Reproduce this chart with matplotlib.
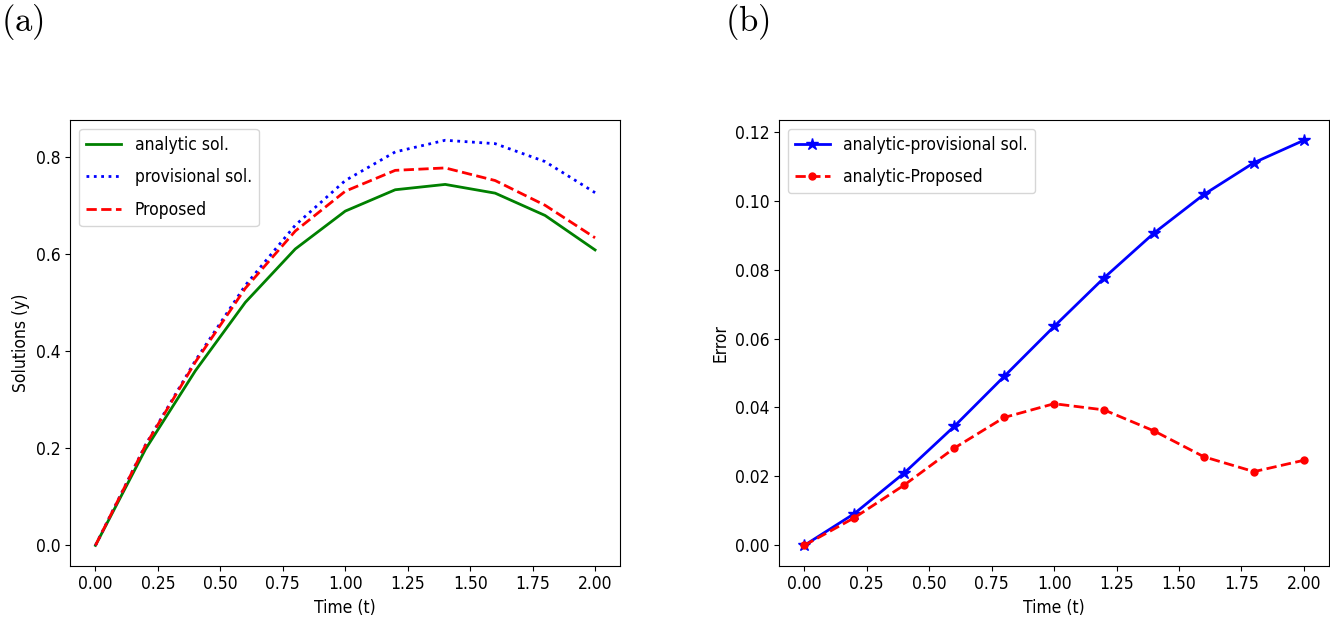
import numpy as np
import matplotlib
matplotlib.use("Agg")
import matplotlib.pyplot as plt

plt.rcParams["mathtext.fontset"] = "cm"
plt.rcParams["font.family"] = ["DejaVu Sans"]
plt.rcParams["font.stretch"] = "condensed"

# ── data ──────────────────────────────────────────────────────────────────────
t = [0.0, 0.2, 0.4, 0.6, 0.8, 1.0, 1.2, 1.4, 1.6, 1.8, 2.0]

analytic    = [0.0, 0.198, 0.360, 0.501, 0.611, 0.689, 0.733, 0.744, 0.726, 0.680, 0.609]
provisional = [0.0, 0.207, 0.381, 0.536, 0.660, 0.752, 0.811, 0.835, 0.828, 0.791, 0.727]
proposed    = [0.0, 0.206, 0.378, 0.530, 0.648, 0.730, 0.773, 0.778, 0.752, 0.701, 0.634]

err_provisional = [0.0, 0.0092, 0.0210, 0.0345, 0.0490, 0.0635, 0.0776, 0.0906, 0.1018, 0.1110, 0.1175]
err_proposed    = [0.0, 0.0080, 0.0175, 0.0282, 0.0371, 0.0411, 0.0393, 0.0332, 0.0257, 0.0214, 0.0247]

FS = 12.5

fig = plt.figure(figsize=(13.3, 6.27), dpi=100)
ax1 = fig.add_axes([0.0530, 0.0978, 0.4132, 0.7108])
ax2 = fig.add_axes([0.5859, 0.0978, 0.4133, 0.7108])

# ── (a) solutions ─────────────────────────────────────────────────────────────
ax1.plot(t, analytic, color="green", linestyle="-", linewidth=2, label="analytic sol.")
ax1.plot(t, provisional, color="blue", linestyle=":", linewidth=2, label="provisional sol.")
ax1.plot(t, proposed, color="red", linestyle="--", linewidth=2, label="Proposed")
ax1.set_xticks(np.arange(0, 2.01, 0.25))
ax1.set_xlabel("Time (t)", fontsize=FS)
ax1.set_ylabel("Solutions (y)", fontsize=FS)
ax1.tick_params(labelsize=FS)
ax1.legend(loc="upper left", fontsize=FS, labelspacing=0.85)

# ── (b) errors ────────────────────────────────────────────────────────────────
ax2.plot(t, err_provisional, color="blue", linestyle="-", linewidth=2,
         marker="*", markersize=9, label="analytic-provisional sol.")
ax2.plot(t, err_proposed, color="red", linestyle="--", linewidth=2,
         marker="o", markersize=5, label="analytic-Proposed")
ax2.set_xticks(np.arange(0, 2.01, 0.25))
ax2.set_xlabel("Time (t)", fontsize=FS)
ax2.set_ylabel("Error", fontsize=FS)
ax2.tick_params(labelsize=FS)
ax2.legend(loc="upper left", fontsize=FS, labelspacing=0.85)

fig.text(0.001, 0.965, r"$\mathrm{(a)}$", fontsize=25, ha="left", va="center")
fig.text(0.545, 0.965, r"$\mathrm{(b)}$", fontsize=25, ha="left", va="center")

fig.savefig("out.png", dpi=100)
